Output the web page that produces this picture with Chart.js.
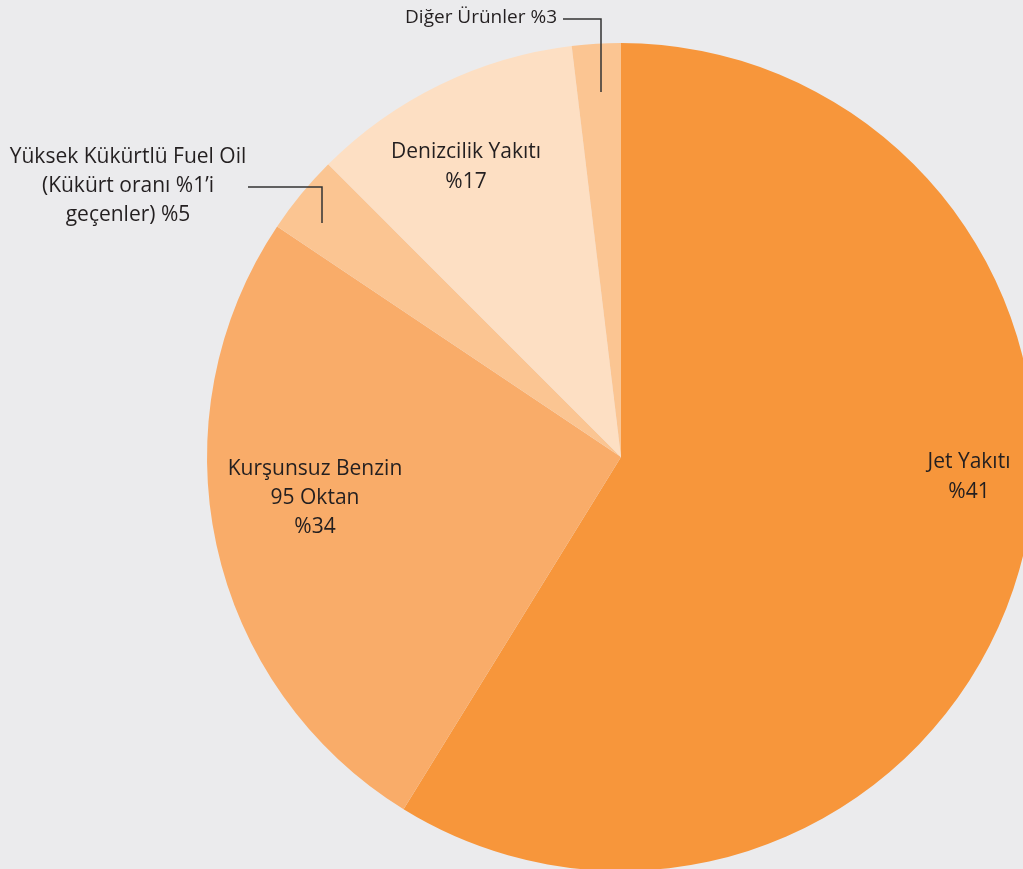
<!DOCTYPE html>
<html>
<head>
<meta charset="utf-8">
<style>
  html, body { margin: 0; padding: 0; background: #EBEBED; overflow: hidden; }
  #wrap { position: absolute; left: 0; top: 0; width: 1100px; height: 900px; }
</style>
<script src="https://cdn.jsdelivr.net/npm/chart.js@4.4.1/dist/chart.umd.min.js"></script>
</head>
<body>
<div id="wrap"><canvas id="c" width="1100" height="900"></canvas></div>
<script>
// Categories (clockwise from 12 o'clock)
const categories = ["Jet Yakıtı", "Kurşunsuz Benzin 95 Oktan", "Yüksek Kükürtlü Fuel Oil", "Denizcilik Yakıtı", "Diğer Ürünler"];
// Slice sizes as drawn in the picture (share of the circle, %)
const sliceValues = [58.8, 25.6, 3.1, 10.6, 1.9];
// Printed percentage labels
const printedPercents = ["%41", "%34", "%5", "%17", "%3"];
const sliceColors = ["#F7963B", "#F9AC69", "#FBC592", "#FDDFC3", "#FBC592"];

const FONT = '"Open Sans", "Noto Sans", sans-serif';
const TEXT = '#231F20';

const labelPlugin = {
  id: 'labels',
  afterDatasetsDraw(chart) {
    const ctx = chart.ctx;
    const meta = chart.getDatasetMeta(0);
    const arcs = meta.data;
    const cx = arcs[0].x, cy = arcs[0].y;
    ctx.save();
    ctx.fillStyle = TEXT;
    ctx.textAlign = 'center';
    ctx.textBaseline = 'middle';

    function lines(arr, x, y, lh, size) {
      ctx.font = size + 'px ' + FONT;
      arr.forEach((t, i) => ctx.fillText(t, x, y + i * lh));
    }
    lines(["Jet Yakıtı", printedPercents[0]], cx + 348, cy + 5, 30, 21);
    lines(["Kurşunsuz Benzin", "95 Oktan", printedPercents[1]], cx - 306, cy + 12, 29, 21);
    lines(["Denizcilik Yakıtı", printedPercents[3]], cx - 155, cy - 305, 30, 21);
    lines(["Yüksek Kükürtlü Fuel Oil", "(Kükürt oranı %1’i", "geçenler) " + printedPercents[2]], cx - 493, cy - 300, 29, 21);
    ctx.font = '19px ' + FONT;
    ctx.textAlign = 'right';
    ctx.fillText("Diğer Ürünler " + printedPercents[4], cx - 64, cy - 439);

    // Leader lines
    ctx.strokeStyle = '#333333';
    ctx.lineWidth = 1.5;
    ctx.beginPath();
    ctx.moveTo(cx - 58, cy - 438);
    ctx.lineTo(cx - 20, cy - 438);
    ctx.lineTo(cx - 20, cy - 365);
    ctx.stroke();
    ctx.beginPath();
    ctx.moveTo(cx - 373, cy - 270);
    ctx.lineTo(cx - 299, cy - 270);
    ctx.lineTo(cx - 299, cy - 234);
    ctx.stroke();
    ctx.restore();
  }
};

new Chart(document.getElementById('c'), {
  type: 'pie',
  data: {
    labels: categories,
    datasets: [{
      data: sliceValues,
      backgroundColor: sliceColors,
      borderWidth: 0
    }]
  },
  options: {
    responsive: false,
    animation: false,
    layout: { padding: { left: 207, right: 65, top: 43, bottom: 29 } },
    plugins: { legend: { display: false }, tooltip: { enabled: false } }
  },
  plugins: [labelPlugin]
});
</script>
</body>
</html>
